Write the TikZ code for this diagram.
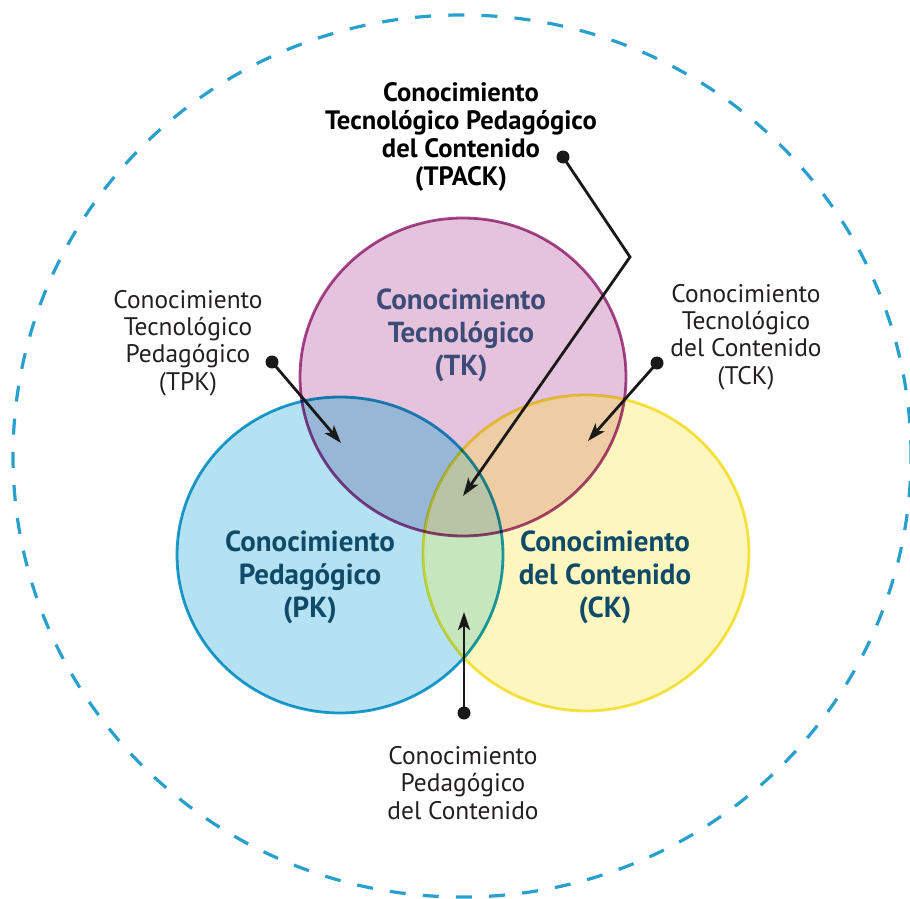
\documentclass[tikz,border=0pt]{standalone}
\usepackage{fontspec}
\setmainfont{PT Sans}
\usetikzlibrary{arrows.meta}
\definecolor{tkfill}{RGB}{230,195,220}
\definecolor{tkline}{RGB}{168,71,141}
\definecolor{pkfill}{RGB}{180,226,243}
\definecolor{pkline}{RGB}{30,160,205}
\definecolor{ckfill}{RGB}{253,246,190}
\definecolor{ckline}{RGB}{245,230,70}
\definecolor{tpfill}{RGB}{152,182,214}
\definecolor{tcfill}{RGB}{238,205,165}
\definecolor{pcfill}{RGB}{198,230,190}
\definecolor{allfill}{RGB}{185,195,165}
\definecolor{outer}{RGB}{40,160,205}
\definecolor{tktext}{RGB}{60,75,120}
\definecolor{pktext}{RGB}{15,75,105}
\definecolor{lbltext}{RGB}{35,31,32}
\tikzset{
  lbl/.style={align=center, inner sep=0pt, text=lbltext, font=\fontsize{12.7}{13.6}\selectfont},
  ttl/.style={align=center, inner sep=0pt, text=black, font=\bfseries\fontsize{13.3}{14.1}\selectfont},
  inlbl/.style={align=center, inner sep=0pt, font=\bfseries\fontsize{14.5}{16.5}\selectfont},
  pin/.style={circle, fill=black!90, inner sep=0pt, minimum size=6.5pt},
  conn/.style={black!90, line width=1.4pt, -{Stealth[length=9pt,width=6pt,inset=2.2pt]}},
  ring/.style={line width=1.4pt}
}
\begin{document}
\begin{tikzpicture}[x=0.5pt,y=-0.5pt]
\useasboundingbox (0,0) rectangle (910,899);
\fill[white] (0,0) rectangle (910,899);
% outer dashed ring
\draw[outer, line width=1.6pt, dash pattern=on 8pt off 8.6pt, dash phase=4pt]
  (462,456) ellipse [x radius=449, y radius=441];
% base fills
\fill[tkfill] (463,377) ellipse [x radius=163, y radius=159];
\fill[pkfill] (340,555) ellipse [x radius=163, y radius=158];
\fill[ckfill] (586,553) ellipse [x radius=163, y radius=158];
% pairwise overlaps
\begin{scope}
  \clip (463,377) ellipse [x radius=163, y radius=159];
  \fill[tpfill] (340,555) ellipse [x radius=163, y radius=158];
  \fill[tcfill] (586,553) ellipse [x radius=163, y radius=158];
  \clip (340,555) ellipse [x radius=163, y radius=158];
  \fill[allfill] (586,553) ellipse [x radius=163, y radius=158];
\end{scope}
\begin{scope}
  \clip (340,555) ellipse [x radius=163, y radius=158];
  \fill[pcfill] (586,553) ellipse [x radius=163, y radius=158];
  \clip (463,377) ellipse [x radius=163, y radius=159];
  \fill[allfill] (586,553) ellipse [x radius=163, y radius=158];
\end{scope}
% borders
\begin{scope}[blend mode=multiply]
  \draw[ring, tkline] (463,377) ellipse [x radius=163, y radius=159];
  \draw[ring, pkline] (340,555) ellipse [x radius=163, y radius=158];
  \draw[ring, ckline] (586,553) ellipse [x radius=163, y radius=158];
\end{scope}
% circle labels
\node[inlbl, text=tktext] (tk) at (461,335) {Conocimiento\\Tecnológico\\(TK)};
\node[inlbl, text=pktext] (pk) at (310,577) {Conocimiento\\Pedagógico\\(PK)};
\node[inlbl, text=pktext] (ck) at (605,577) {Conocimiento\\del Contenido\\(CK)};
% outside labels
\node[ttl] (tpack) at (461,137) {Conocimiento\\Tecnológico Pedagógico\\del Contenido\\(TPACK)};
\node[lbl] (tpk) at (188,343) {Conocimiento\\Tecnológico\\Pedagógico\\(TPK)};
\node[lbl] (tck) at (746,337) {Conocimiento\\Tecnológico\\del Contenido\\(TCK)};
\node[lbl] (pck) at (463,783) {Conocimiento\\Pedagógico\\del Contenido};
% pins and connectors
\node[pin] (d1) at (563,157) {};
\node[pin] (d2) at (272,362) {};
\node[pin] (d3) at (657,363) {};
\node[pin] (d4) at (464,713) {};
\coordinate (bend) at (630,257);
\coordinate (t1) at (463,496);
\coordinate (t2) at (341,443);
\coordinate (t3) at (588,441);
\coordinate (t4) at (464,612);
\draw[conn] (d1.center) -- (bend) -- (t1);
\draw[conn] (d2.center) -- (t2);
\draw[conn] (d3.center) -- (t3);
\draw[conn] (d4.center) -- (t4);
\end{tikzpicture}
\end{document}
